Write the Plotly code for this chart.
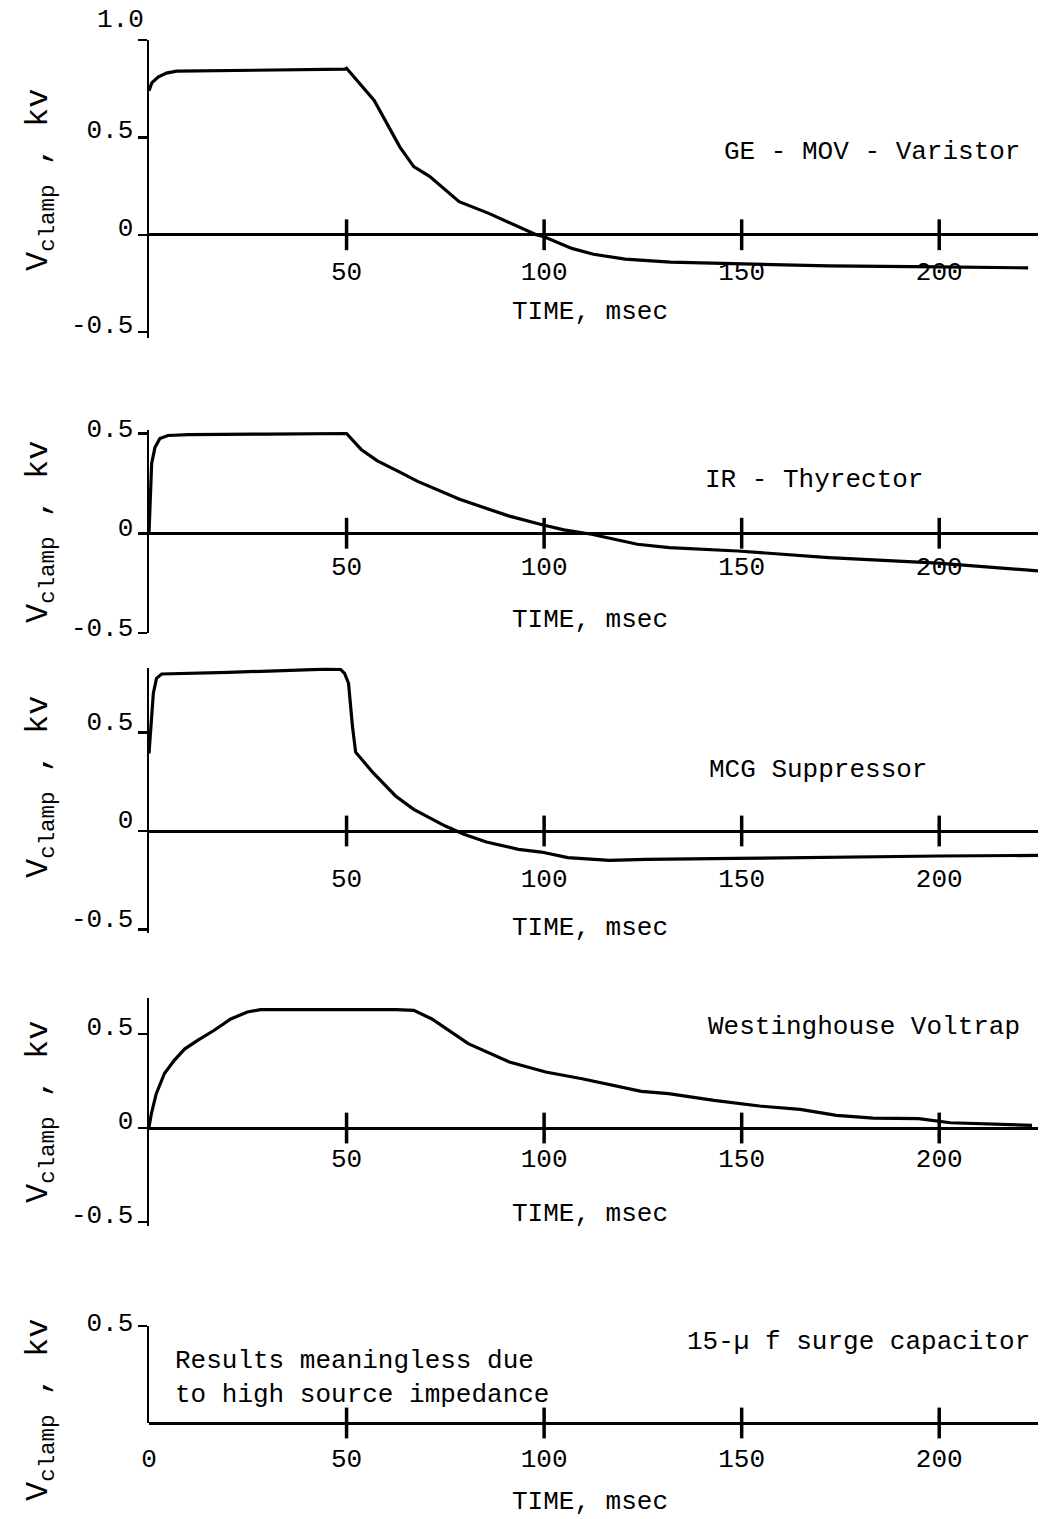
import plotly.graph_objects as go

W, H = 1040, 1519
FONT = "Liberation Mono"

# ---------------- data ----------------
ge_time = [0, 0.7, 2.3, 4.4, 7, 30, 49.6, 50, 57, 63.5, 67, 71, 78.5, 86, 92, 98, 100,
           107, 112.5, 120.5, 132, 149, 172, 200, 222.5]
ge_vclamp = [0.74, 0.78, 0.81, 0.83, 0.84, 0.845, 0.85, 0.855, 0.69, 0.45, 0.35, 0.30, 0.17,
             0.11, 0.056, 0.0, -0.01, -0.07, -0.10, -0.125, -0.14, -0.15, -0.16, -0.165, -0.17]

ir_time = [0, 0.3, 0.67, 1.5, 2.75, 4.8, 10, 30, 48.6, 50, 53.7, 57.8, 63.6, 68, 78.6, 91,
           99, 105, 112, 123.6, 131.7, 149, 172, 199.7, 226]
ir_vclamp = [0, 0.2, 0.35, 0.43, 0.475, 0.49, 0.494, 0.497, 0.5, 0.5, 0.42, 0.363, 0.305, 0.26,
             0.17, 0.087, 0.045, 0.017, -0.005, -0.055, -0.072, -0.089, -0.122, -0.15, -0.19]

mcg_time = [0, 0.4, 1.1, 1.9, 3.2, 20, 45, 48.5, 49.5, 50.5, 51.5, 52.3, 56.7, 62.4, 67, 75,
            79.7, 85.4, 93.5, 99.3, 106, 116.5, 125.7, 148.7, 171.7, 200, 225]
mcg_vclamp = [0.394, 0.53, 0.70, 0.775, 0.797, 0.805, 0.822, 0.82, 0.80, 0.75, 0.53, 0.40, 0.296,
              0.178, 0.11, 0.025, -0.017, -0.056, -0.093, -0.107, -0.135, -0.149, -0.144,
              -0.139, -0.132, -0.127, -0.124]

wh_time = [0, 0.6, 1.8, 3.9, 6.4, 9, 12.3, 16.5, 20.7, 24.9, 28.2, 45, 62.6, 67, 71.6, 80.8,
           91.2, 100.4, 109.6, 124.6, 131.5, 143, 154.5, 164.8, 174, 183.3, 194.8, 202.8,
           212, 223.5]
wh_vclamp = [0.005, 0.076, 0.18, 0.29, 0.36, 0.42, 0.466, 0.52, 0.58, 0.617, 0.63, 0.632, 0.63,
             0.626, 0.58, 0.449, 0.351, 0.298, 0.262, 0.195, 0.183, 0.147, 0.117, 0.099, 0.067,
             0.053, 0.05, 0.028, 0.023, 0.014]

x_ticks = [50, 100, 150, 200]
x_ticks_last = [0, 50, 100, 150, 200]

device_names = ["GE - MOV - Varistor", "IR - Thyrector", "MCG Suppressor",
                "Westinghouse Voltrap", "15-\u00b5 f surge capacitor"]
note_text = "Results meaningless due<br>to high source impedance"
x_title = "TIME, msec"
y_title = "V<sub>clamp</sub> , kv"

series = [(ge_time, ge_vclamp), (ir_time, ir_vclamp), (mcg_time, mcg_vclamp),
          (wh_time, wh_vclamp), None]

# ---------------- layout geometry (pixels) ----------------
panels = [
    dict(top=40, bot=338, rng=[-0.53, 1.0], zero=234, yt=[1.0, 0.5, 0, -0.5],
         ytt=["", "0.5", "0", "-0.5"], so=13, ys=-8, xt=x_ticks, title_y=312, ytc=180,
         label=dict(x=1022, y=152, anchor="right")),
    dict(top=429.5, bot=633, rng=[-0.5, 0.52], zero=533, yt=[0.5, 0, -0.5],
         ytt=["0.5", "0", "-0.5"], so=9, ys=-6, xt=x_ticks, title_y=620, ytc=532,
         label=dict(x=703, y=480, anchor="left")),
    dict(top=667.5, bot=933.4, rng=[-0.52, 0.83], zero=831, yt=[0.5, 0, -0.5],
         ytt=["0.5", "0", "-0.5"], so=23, ys=-12, xt=x_ticks, title_y=928, ytc=787,
         label=dict(x=707, y=770, anchor="left")),
    dict(top=998.3, bot=1225.8, rng=[-0.52, 0.69], zero=1128, yt=[0.5, 0, -0.5],
         ytt=["0.5", "0", "-0.5"], so=6, ys=-8, xt=x_ticks, title_y=1214, ytc=1112,
         label=dict(x=1022, y=1027, anchor="right")),
    dict(top=1326, bot=1423, rng=[0, 0.5], zero=1423, yt=[0.5],
         ytt=["0.5"], so=11, ys=-4, xt=x_ticks_last, title_y=1502, ytc=1410,
         label=dict(x=1032, y=1342, anchor="right")),
]

def py(p):
    return 1 - p / H

def pxx(p):
    return p / W

fig = go.Figure()
layout = dict(
    template="none",
    width=W, height=H, margin=dict(l=0, r=0, t=0, b=0, pad=0, autoexpand=False),
    paper_bgcolor="white", plot_bgcolor="white", showlegend=False,
    font=dict(family=FONT, size=26, color="black"),
)
annotations = []

for i, p in enumerate(panels, start=1):
    sx = "" if i == 1 else str(i)
    xa, ya = "x" + sx, "y" + sx
    layout["xaxis" + sx] = dict(
        domain=[pxx(149), pxx(1038)], range=[0, 225], anchor="free", automargin=False,
        position=py(p["zero"]), showline=True, linewidth=2.5, linecolor="black",
        ticks="", tickvals=p["xt"], ticktext=[str(v) for v in p["xt"]],
        tickfont=dict(family=FONT, size=26, color="black"),
        ticklabelstandoff=p["so"], showgrid=False, zeroline=False, fixedrange=True,
    )
    layout["yaxis" + sx] = dict(
        domain=[py(p["bot"]), py(p["top"])], range=p["rng"], anchor=xa, automargin=False,
        showline=True, linewidth=2.5, linecolor="black", ticks="outside",
        ticklen=9, tickwidth=2.5, tickcolor="black", tickvals=p["yt"], ticktext=p["ytt"],
        tickfont=dict(family=FONT, size=26, color="black"),
        ticklabelstandoff=-1, ticklabelshift=p["ys"],
        showgrid=False, zeroline=False, fixedrange=True,
    )
    s = series[i - 1]
    if s is not None:
        fig.add_trace(go.Scatter(x=s[0], y=s[1], xaxis=xa, yaxis=ya, mode="lines",
                                 line=dict(color="black", width=3.2), hoverinfo="skip"))
    tv = [v for v in p["xt"] if v != 0]
    fig.add_trace(go.Scatter(x=tv, y=[0] * len(tv), xaxis=xa, yaxis=ya, mode="markers",
                             marker=dict(symbol="line-ns", size=22,
                                         line=dict(color="black", width=3.5)),
                             cliponaxis=False, hoverinfo="skip"))
    # axis titles
    annotations.append(dict(text=x_title, x=pxx(590), y=py(p["title_y"]), xref="paper",
                            yref="paper", showarrow=False, xanchor="center", yanchor="middle",
                            font=dict(family=FONT, size=26)))
    annotations.append(dict(text=y_title, x=pxx(40), y=py(p["ytc"]),
                            xref="paper", yref="paper", showarrow=False, textangle=-90,
                            xanchor="center", yanchor="middle",
                            font=dict(family=FONT, size=32)))
    lb = p["label"]
    annotations.append(dict(text=device_names[i - 1], x=pxx(lb["x"]), y=py(lb["y"]),
                            xref="paper", yref="paper", showarrow=False,
                            xanchor=lb["anchor"], yanchor="middle",
                            font=dict(family=FONT, size=26)))

annotations.append(dict(text="1.0", x=pxx(146), y=py(20), xref="paper", yref="paper",
                        showarrow=False, xanchor="right", yanchor="middle",
                        font=dict(family=FONT, size=26)))
annotations.append(dict(text=note_text, x=pxx(173), y=py(1378), xref="paper", yref="paper",
                        showarrow=False, xanchor="left", yanchor="middle", align="left",
                        font=dict(family=FONT, size=26)))

layout["annotations"] = annotations
fig.update_layout(**layout)
fig.write_html("out.html", config={"displayModeBar": False, "staticPlot": True},
               post_script="document.body.style.margin='0';document.body.style.padding='0';")
